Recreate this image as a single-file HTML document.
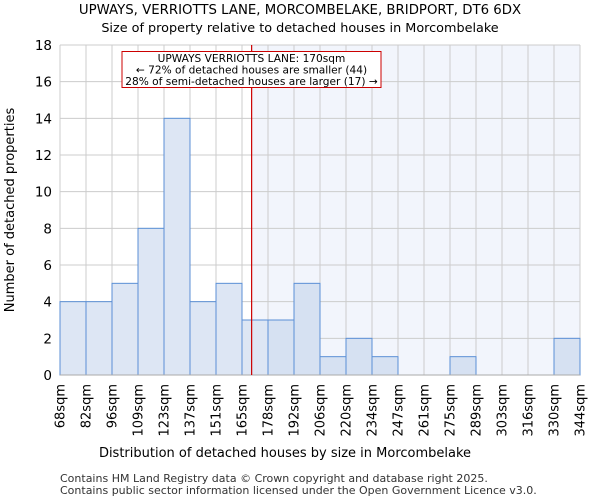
<!DOCTYPE html>
<html><head><meta charset="utf-8"><style>
body{margin:0;background:#fff;font-family:"DejaVu Sans","Liberation Sans",sans-serif}
</style></head><body>
<svg width="600" height="500" xmlns="http://www.w3.org/2000/svg" font-family="DejaVu Sans, Liberation Sans, sans-serif">
<text x="300" y="14" text-anchor="middle" font-size="13.3">UPWAYS, VERRIOTTS LANE, MORCOMBELAKE, BRIDPORT, DT6 6DX</text>
<text x="300" y="32" text-anchor="middle" font-size="12.8">Size of property relative to detached houses in Morcombelake</text>
<g id="plot"></g>
<text x="285" y="457" text-anchor="middle" font-size="13">Distribution of detached houses by size in Morcombelake</text>
<text transform="translate(14,210) rotate(-90)" text-anchor="middle" font-size="13">Number of detached properties</text>
<text x="60" y="482" font-size="11" fill="#333">Contains HM Land Registry data © Crown copyright and database right 2025.</text>
<text x="60" y="494" font-size="11" fill="#333">Contains public sector information licensed under the Open Government Licence v3.0.</text>
</svg>
<script>
const binLabels=["68sqm","82sqm","96sqm","109sqm","123sqm","137sqm","151sqm","165sqm","178sqm","192sqm","206sqm","220sqm","234sqm","247sqm","261sqm","275sqm","289sqm","303sqm","316sqm","330sqm","344sqm"];
const counts=[4,4,5,8,14,4,5,3,3,5,1,2,1,0,0,1,0,0,0,2];
const yTicks=[0,2,4,6,8,10,12,14,16,18];
const markerValue=170;
const binStarts=[68,82,96,109.5,123,137,151,165,178.5,192,206,220,234,247.5,261,275,289,303,316.5,330,344];
const X0=60,X1=580,Y0=375,Y1=45,YMAX=18;
const bw=(X1-X0)/counts.length;
const y=v=>Y0-(v/YMAX)*(Y0-Y1);
const xi=i=>X0+i*bw;
function xv(v){for(let i=0;i<binStarts.length-1;i++){if(v>=binStarts[i]&&v<=binStarts[i+1])return xi(i)+bw*(v-binStarts[i])/(binStarts[i+1]-binStarts[i]);}return X1;}
const NS="http://www.w3.org/2000/svg",g=document.getElementById('plot');
function mk(t,a){const e=document.createElementNS(NS,t);for(const k in a)e.setAttribute(k,a[k]);g.appendChild(e);return e;}
const mx=xv(markerValue);
let e=mk('rect',{x:mx,y:Y1,width:X1-mx,height:Y0-Y1,fill:'#f2f5fc'});


yTicks.forEach(t=>{
 let l=mk('line',{x1:X0,x2:X1,y1:y(t),y2:y(t),stroke:'#cccccc'});
 
 
 let tx=mk('text',{x:X0-8,y:y(t)+5,'text-anchor':'end','font-size':'13.5'});tx.textContent=t;
 
 
});
binLabels.forEach((s,i)=>{
 let l=mk('line',{x1:xi(i),x2:xi(i),y1:Y1,y2:Y0,stroke:'#cccccc'});
 
 
 let tx=mk('text',{transform:`translate(${xi(i)+4.5},384) rotate(-90)`,'text-anchor':'end','font-size':'13'});tx.textContent=s;
 
 
});
counts.forEach((c,i)=>{
 if(c<=0)return;
 let r=mk('rect',{x:xi(i),y:y(c),width:bw,height:Y0-y(c),fill:xi(i)>=mx?'#d6e1f2':'#dde6f4',stroke:'#5b8fd6','stroke-width':1});
 
 
});
let ax=mk('line',{x1:X0,x2:X1,y1:Y0,y2:Y0,stroke:'#aaaaaa'});


let ml=mk('line',{x1:mx,x2:mx,y1:Y1,y2:Y0,stroke:'#cc0000','stroke-width':1.2});


let box=mk('rect',{x:122,y:51.5,width:259,height:36,fill:'#fff',stroke:'#cc0000'});


["UPWAYS VERRIOTTS LANE: 170sqm","← 72% of detached houses are smaller (44)","28% of semi-detached houses are larger (17) →"].forEach((s,k)=>{
 let t=mk('text',{x:251.5,y:62+k*11.5,'text-anchor':'middle','font-size':'10.6'});t.textContent=s;
 
 
});
</script>
</body></html>
